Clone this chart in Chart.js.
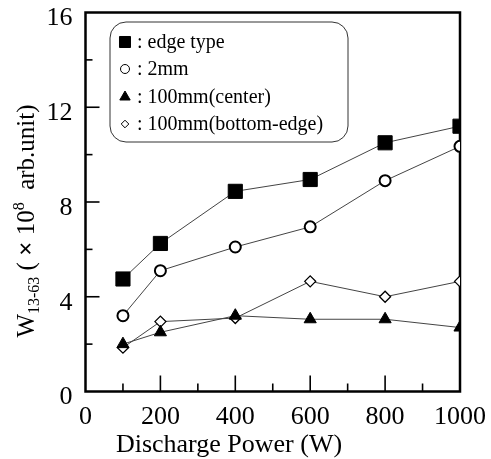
<!DOCTYPE html>
<html>
<head>
<meta charset="utf-8">
<script src="https://cdn.jsdelivr.net/npm/chart.js@4.4.1/dist/chart.umd.min.js"></script>
<style>
  html, body { margin: 0; padding: 0; background: #fff; }
  #wrap { width: 491px; height: 459px; position: relative; }
</style>
</head>
<body>
<div id="wrap"><canvas id="chart"></canvas></div>
<script>
// data
const powers = [100, 200, 400, 600, 800, 1000];
const edgeType = [4.75, 6.25, 8.45, 8.95, 10.5, 11.2];
const gap2mm = [3.2, 5.1, 6.1, 6.95, 8.9, 10.35];
const center100 = [2.0, 2.5, 3.2, 3.05, 3.05, 2.7];
const bottomEdge100 = [1.85, 2.95, 3.1, 4.65, 4.0, 4.65];
const seriesNames = ['edge type', '2mm', '100mm(center)', '100mm(bottom-edge)'];
const yLabelTicks = [0, 4, 8, 12, 16];
const xLabelTicks = [0, 200, 400, 600, 800, 1000];

const serif = '"Liberation Serif", "Times New Roman", serif';

function toPoints(values) {
    return powers.map((p, i) => ({ x: p, y: values[i] }));
}

// marker look per series (chart and legend)
const markers = [
    { pointStyle: 'rect', radius: 10, fill: '#000', border: 1, legendRadius: 7.8 },
    { pointStyle: 'circle', radius: 5.5, fill: '#fff', border: 2, legendRadius: 4.5 },
    { pointStyle: 'triangle', radius: 7, fill: '#000', border: 1, legendRadius: 6 },
    { pointStyle: 'rectRot', radius: 5.5, fill: '#fff', border: 1.3, legendRadius: 3.8 }
];
const seriesValues = [edgeType, gap2mm, center100, bottomEdge100];

const datasets = seriesValues.map((vals, i) => ({
    label: seriesNames[i],
    data: toPoints(vals),
    borderColor: '#444',
    borderWidth: 1,
    pointStyle: markers[i].pointStyle,
    pointRadius: markers[i].radius,
    pointHoverRadius: markers[i].radius,
    pointBackgroundColor: markers[i].fill,
    pointBorderColor: '#000',
    pointBorderWidth: markers[i].border,
    tension: 0
}));

// frame + inward tick marks
const frameTicks = {
    id: 'frameTicks',
    beforeDatasetsDraw(chart) {
        const { ctx, chartArea: a, scales } = chart;
        ctx.save();
        ctx.strokeStyle = '#000';
        ctx.lineWidth = 1.6;
        for (let v = 2; v < 16; v += 2) {
            const y = scales.y.getPixelForValue(v);
            const len = v % 4 === 0 ? 14 : 7;
            ctx.beginPath();
            ctx.moveTo(a.left, y);
            ctx.lineTo(a.left + len, y);
            ctx.stroke();
        }
        for (let v = 100; v < 1000; v += 100) {
            const x = scales.x.getPixelForValue(v);
            const len = v % 200 === 0 ? 16 : 8;
            ctx.beginPath();
            ctx.moveTo(x, a.bottom);
            ctx.lineTo(x, a.bottom - len);
            ctx.stroke();
        }
        ctx.lineWidth = 2.5;
        ctx.strokeRect(a.left, a.top, a.right - a.left, a.bottom - a.top);
        ctx.restore();
    }
};

// rounded legend box and axis titles
const extras = {
    id: 'extras',
    afterDraw(chart) {
        const { ctx } = chart;
        ctx.save();

        // legend
        const bx = 110, by = 22, bw = 238, bh = 120, r = 16;
        ctx.strokeStyle = '#333';
        ctx.lineWidth = 1;
        ctx.beginPath();
        ctx.roundRect(bx, by, bw, bh, r);
        ctx.stroke();
        const rows = [42, 69, 97, 124];
        ctx.font = '20px ' + serif;
        ctx.textBaseline = 'middle';
        seriesNames.forEach((name, i) => {
            const m = markers[i];
            ctx.fillStyle = m.fill;
            ctx.strokeStyle = '#000';
            ctx.lineWidth = 1;
            Chart.helpers.drawPoint(ctx, {
                pointStyle: m.pointStyle, radius: m.legendRadius, rotation: 0, borderWidth: 1
            }, 125, rows[i]);
            ctx.fillStyle = '#000';
            ctx.fillText(': ' + name, 137, rows[i] + 1);
        });

        // x title
        ctx.font = '26px ' + serif;
        ctx.textAlign = 'center';
        ctx.textBaseline = 'alphabetic';
        ctx.fillText('Discharge Power (W)', 229, 452);

        // y title, rotated, with sub/superscripts
        const parts = [
            { t: 'W', size: 25, dy: 0 },
            { t: '13-63', size: 16, dy: 5 },
            { t: ' ( ', size: 25, dy: 0 },
            { t: '×', size: 25, dy: 0, bold: true },
            { t: ' 10', size: 25, dy: 0 },
            { t: '8', size: 16, dy: -10 },
            { t: '  arb.unit)', size: 25, dy: 0 }
        ];
        let total = 0;
        parts.forEach(p => {
            ctx.font = (p.bold ? 'bold ' : '') + p.size + 'px ' + serif;
            p.w = ctx.measureText(p.t).width;
            total += p.w;
        });
        ctx.translate(34, 221);
        ctx.rotate(-Math.PI / 2);
        ctx.textAlign = 'left';
        let x = -total / 2;
        parts.forEach(p => {
            ctx.font = (p.bold ? 'bold ' : '') + p.size + 'px ' + serif;
            ctx.fillText(p.t, x, p.dy);
            x += p.w;
        });
        ctx.restore();
    }
};

new Chart(document.getElementById('chart'), {
    type: 'line',
    data: { datasets: datasets },
    options: {
        responsive: true,
        maintainAspectRatio: false,
        animation: false,
        layout: { padding: { left: 0, right: 27, top: 12.5, bottom: 0 } },
        plugins: {
            legend: { display: false },
            tooltip: { enabled: false }
        },
        scales: {
            x: {
                type: 'linear',
                min: 0,
                max: 1000,
                afterFit: (scale) => { scale.height = 67.5; },
                afterBuildTicks: (scale) => {
                    scale.ticks = xLabelTicks.map(v => ({ value: v }));
                },
                ticks: {
                    autoSkip: false,
                    maxRotation: 0,
                    padding: 5,
                    color: '#000',
                    callback: (v) => String(v),
                    font: { family: serif, size: 26, lineHeight: 1 }
                },
                grid: { display: false },
                border: { display: false }
            },
            y: {
                min: 0,
                max: 16,
                afterFit: (scale) => { scale.width = 85.5; },
                afterBuildTicks: (scale) => {
                    scale.ticks = yLabelTicks.map(v => ({ value: v }));
                },
                ticks: {
                    padding: 5,
                    labelOffset: 6,
                    color: '#000',
                    callback: (v) => String(v),
                    font: { family: serif, size: 26, lineHeight: 0.55 }
                },
                grid: { display: false },
                border: { display: false }
            }
        }
    },
    plugins: [frameTicks, extras]
});
</script>
</body>
</html>
